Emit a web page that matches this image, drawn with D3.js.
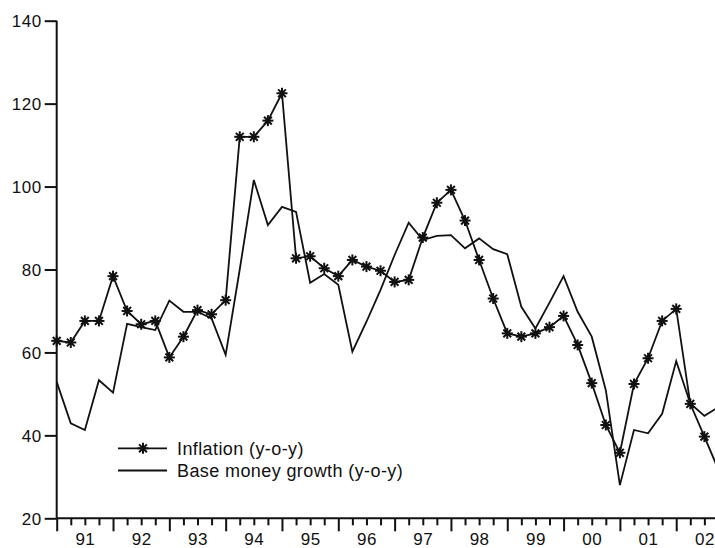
<!DOCTYPE html>
<html>
<head>
<meta charset="utf-8">
<script src="https://cdn.jsdelivr.net/npm/d3@7"></script>
<style>
  html, body { margin: 0; padding: 0; background: #fff; }
  svg { display: block; }
  text { font-family: "Liberation Sans", Arial, sans-serif; fill: #111; }
</style>
</head>
<body>
<svg id="chart" width="715" height="548"></svg>
<script>
// Quarterly data, 1991Q1 .. 2002Q4
const yearLabels = ["91","92","93","94","95","96","97","98","99","00","01","02"];
const yTicks = [20, 40, 60, 80, 100, 120, 140];

const inflation = [
  62.8, 62.4, 67.6, 67.6,
  78.4, 70.0, 66.8, 67.6,
  58.8, 63.8, 70.2, 69.2,
  72.6, 112.0, 112.0, 115.9,
  122.5, 82.7, 83.2, 80.3,
  78.4, 82.3, 80.7, 79.7,
  77.0, 77.5, 87.7, 96.1,
  99.2, 91.8, 82.3, 73.0,
  64.6, 63.8, 64.6, 66.1,
  68.8, 61.8, 52.6, 42.5,
  35.8, 52.4, 58.6, 67.6,
  70.5, 47.6, 39.7, 31.7
];
const baseMoney = [
  52.9, 42.9, 41.3, 53.3,
  50.3, 66.9, 66.1, 65.4,
  72.5, 69.8, 69.8, 68.2,
  59.4, 80.0, 101.6, 90.7,
  95.1, 93.9, 76.8, 78.9,
  76.3, 60.2, 67.4, 75.1,
  83.5, 91.3, 87.1, 88.1,
  88.3, 85.1, 87.5, 84.9,
  83.7, 71.0, 65.8, 72.0,
  78.4, 69.8, 63.8, 50.9,
  28.0, 41.3, 40.5, 45.2,
  57.9, 47.7, 44.7, 46.8
];
const legendLabels = ["Inflation (y-o-y)", "Base money growth (y-o-y)"];

const svg = d3.select("#chart");
const W = 715, H = 548;
const x0 = 56.7, step = 14.08;
const x = d3.scaleLinear().domain([0, 47]).range([x0, x0 + 47 * step]);
const y = d3.scaleLinear().domain([20, 140]).range([518.3, 20.7]);

const fontSize = "17px";

svg.append("defs").append("clipPath").attr("id", "clip")
  .append("rect").attr("x", 0).attr("y", 0).attr("width", W).attr("height", H);

const idx = d3.range(inflation.length);

// Y axis
const yAxis = svg.append("g").attr("transform", `translate(${x0},0)`)
  .call(d3.axisLeft(y).tickValues(yTicks).tickSize(12).tickPadding(3).tickFormat(d3.format("d")));
yAxis.select(".domain").attr("stroke", "#111").attr("stroke-width", 2).attr("d", `M0,${y(140)}V${y(20)}`);
yAxis.selectAll(".tick line").attr("stroke", "#111").attr("stroke-width", 2);
yAxis.selectAll(".tick text").style("font-size", fontSize).attr("dy", "0.36em").attr("letter-spacing", "0.5px");

// X axis: minor (quarter) ticks
const xAxisY = y(20);
const xMinor = svg.append("g").attr("transform", `translate(0,${xAxisY})`)
  .call(d3.axisBottom(x).tickValues(d3.range(0, 48).filter(i => i % 4 !== 0)).tickSize(7).tickFormat(""));
xMinor.select(".domain").attr("stroke", "#111").attr("stroke-width", 2).attr("d", `M${x0},0H${W}`);
xMinor.selectAll(".tick line").attr("stroke", "#111").attr("stroke-width", 2);

// X axis: major (year) ticks
const xMajor = svg.append("g").attr("transform", `translate(0,${xAxisY})`)
  .call(d3.axisBottom(x).tickValues(d3.range(0, 48, 4)).tickSize(13).tickFormat(""));
xMajor.select(".domain").remove();
xMajor.selectAll(".tick line").attr("stroke", "#111").attr("stroke-width", 2);

// X axis: year labels centred in each year
const xLab = svg.append("g").attr("transform", `translate(0,${xAxisY})`)
  .call(d3.axisBottom(x).tickValues(d3.range(2, 48, 4)).tickSize(0)
    .tickFormat((d, i) => yearLabels[i]));
xLab.select(".domain").remove();
xLab.selectAll(".tick text").style("font-size", fontSize).attr("y", 26.5).attr("dy", 0).attr("letter-spacing", "0.5px");

const line = d3.line().x((d, i) => x(i)).y(d => y(d));

const plot = svg.append("g").attr("clip-path", "url(#clip)");

plot.append("path").datum(baseMoney)
  .attr("d", line).attr("fill", "none").attr("stroke", "#111")
  .attr("stroke-width", 1.8).attr("stroke-linejoin", "miter");

plot.append("path").datum(inflation)
  .attr("d", line).attr("fill", "none").attr("stroke", "#111")
  .attr("stroke-width", 1.8).attr("stroke-linejoin", "miter");

function star(g, cx, cy, r) {
  const s = g.append("g").attr("transform", `translate(${cx},${cy})`);
  for (let k = 0; k < 4; k++) {
    const a = k * Math.PI / 4;
    s.append("line")
      .attr("x1", -r * Math.cos(a)).attr("y1", -r * Math.sin(a))
      .attr("x2", r * Math.cos(a)).attr("y2", r * Math.sin(a))
      .attr("stroke", "#111").attr("stroke-width", 2);
  }
  s.append("circle").attr("r", 2.5).attr("fill", "#111");
}

idx.forEach(i => {
  if (x(i) <= W) star(plot, x(i), y(inflation[i]), 5.5);
});

// Legend
const lg = svg.append("g");
lg.append("line").attr("x1", 118).attr("x2", 167).attr("y1", 448.3).attr("y2", 448.3)
  .attr("stroke", "#111").attr("stroke-width", 1.8);
star(lg, 143, 448.3, 5.5);
lg.append("text").attr("x", 177).attr("y", 454.5).style("font-size", "18px")
  .attr("letter-spacing", "0.4px").text(legendLabels[0]);
lg.append("line").attr("x1", 118).attr("x2", 167).attr("y1", 470.5).attr("y2", 470.5)
  .attr("stroke", "#111").attr("stroke-width", 1.8);
lg.append("text").attr("x", 177).attr("y", 477).style("font-size", "18px")
  .attr("letter-spacing", "0.4px").text(legendLabels[1]);
</script>
</body>
</html>
